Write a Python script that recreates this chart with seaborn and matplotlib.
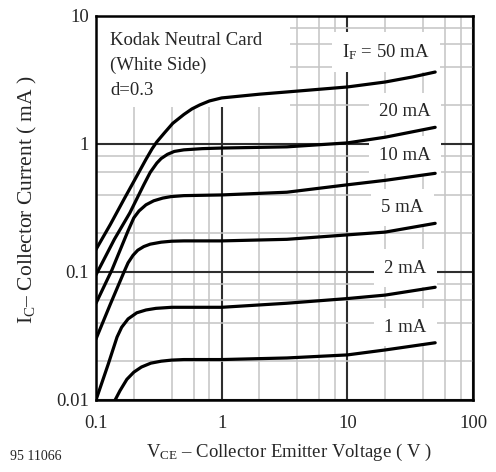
import matplotlib
matplotlib.use("Agg")
import matplotlib.pyplot as plt
from matplotlib.ticker import FixedLocator, LogLocator, NullFormatter
from matplotlib.patches import Rectangle
import pandas as pd
import seaborn as sns

# Output characteristics: collector current vs. collector-emitter voltage
# for several forward currents (reflective target: Kodak neutral card, white side).
if_labels = ["1 mA", "2 mA", "5 mA", "10 mA", "20 mA", r"I$_{\rm F}$ = 50 mA"]

vce_1 = [0.142, 0.155, 0.176, 0.2, 0.23, 0.273, 0.33, 0.4, 0.5, 1, 3.3, 10, 20, 50]
ic_1 = [0.01, 0.0118, 0.0145, 0.0165, 0.0181, 0.0194, 0.0201, 0.0205, 0.0207,
        0.0207, 0.0213, 0.0225, 0.0246, 0.028]

vce_2 = [0.1, 0.125, 0.147, 0.16, 0.18, 0.211, 0.25, 0.3, 0.4, 1, 3.3, 10, 20, 50]
ic_2 = [0.01, 0.019, 0.031, 0.037, 0.043, 0.048, 0.0505, 0.052, 0.053, 0.053,
        0.057, 0.062, 0.066, 0.076]

vce_5 = [0.1, 0.13, 0.167, 0.18, 0.197, 0.215, 0.24, 0.27, 0.33, 0.4, 0.5, 1,
         3.3, 10, 20, 50]
ic_5 = [0.030, 0.056, 0.100, 0.118, 0.135, 0.148, 0.158, 0.165, 0.171, 0.174,
        0.175, 0.175, 0.18, 0.195, 0.205, 0.24]

vce_10 = [0.1, 0.134, 0.18, 0.2, 0.22, 0.25, 0.288, 0.34, 0.394, 0.5, 1, 3.3,
          10, 20, 50]
ic_10 = [0.057, 0.104, 0.21, 0.265, 0.30, 0.335, 0.36, 0.378, 0.388, 0.395,
         0.40, 0.42, 0.48, 0.52, 0.59]

vce_20 = [0.1, 0.14, 0.186, 0.24, 0.27, 0.305, 0.33, 0.37, 0.42, 0.5, 0.7, 1,
          3.3, 10, 20, 50]
ic_20 = [0.095, 0.18, 0.29, 0.48, 0.60, 0.71, 0.77, 0.83, 0.875, 0.90, 0.92,
         0.93, 0.95, 1.02, 1.13, 1.35]

vce_50 = [0.1, 0.13, 0.167, 0.2, 0.25, 0.28, 0.305, 0.35, 0.408, 0.5, 0.58,
          0.67, 0.8, 1, 2, 3.3, 10, 20, 33, 50]
ic_50 = [0.15, 0.235, 0.37, 0.51, 0.76, 0.92, 1.04, 1.22, 1.45, 1.70, 1.88,
         2.02, 2.17, 2.29, 2.45, 2.55, 2.79, 3.05, 3.34, 3.65]

# label anchor of each curve (V, mA)
label_x = [28.9, 28.9, 27.4, 28.9, 28.9, 20.3]
label_y = [0.037, 0.107, 0.32, 0.82, 1.78, 5.23]

series = [(vce_1, ic_1), (vce_2, ic_2), (vce_5, ic_5),
          (vce_10, ic_10), (vce_20, ic_20), (vce_50, ic_50)]
frames = []
for name, (vx, vy) in zip(if_labels, series):
    frames.append(pd.DataFrame({"vce": vx, "ic": vy, "curve": name}))
df = pd.concat(frames, ignore_index=True)

sns.set_style("white")
plt.rcParams["font.family"] = ["Liberation Serif", "DejaVu Serif"]
plt.rcParams["mathtext.fontset"] = "custom"
plt.rcParams["mathtext.rm"] = "Liberation Serif"
plt.rcParams["mathtext.it"] = "Liberation Serif:italic"

fig = plt.figure(figsize=(4.96, 4.72), dpi=100)
ax = fig.add_axes([96 / 496, 1 - 400 / 472, 377 / 496, 384 / 472])

sns.lineplot(data=df, x="vce", y="ic", units="curve", estimator=None,
             sort=False, color="black", lw=2.3, ax=ax, legend=False, zorder=3)

ax.set_xscale("log")
ax.set_yscale("log")
ax.set_xlim(0.1, 100)
ax.set_ylim(0.01, 10)

ax.xaxis.set_major_locator(FixedLocator([0.1, 1, 10, 100]))
ax.set_xticklabels(["0.1", "1", "10", "100"])
ax.yaxis.set_major_locator(FixedLocator([0.01, 0.1, 1, 10]))
ax.set_yticklabels(["0.01", "0.1", "1", "10"])
ax.xaxis.set_minor_locator(LogLocator(base=10, subs=[2, 4, 6, 8]))
ax.yaxis.set_minor_locator(LogLocator(base=10, subs=[2, 4, 6, 8]))
ax.xaxis.set_minor_formatter(NullFormatter())
ax.yaxis.set_minor_formatter(NullFormatter())

ax.set_axisbelow(True)
ax.grid(which="major", color="#2e2e2e", lw=1.5)
ax.grid(which="minor", color="#c4c4c4", lw=1.1)
ax.tick_params(which="both", length=0, labelsize=13.5)
ax.tick_params(axis="x", pad=11)
ax.tick_params(axis="y", pad=5)
for s in ax.spines.values():
    s.set_linewidth(1.8)
    s.set_color("black")
    s.set_zorder(5)

# blank panel behind the measurement conditions
ax.add_patch(Rectangle((0, 0.763), 0.515, 0.237, transform=ax.transAxes,
                       facecolor="white", edgecolor="none", zorder=1))
for txt, yb in zip(["Kodak Neutral Card", "(White Side)", "d=0.3"],
                   [0.9245, 0.8594, 0.7943]):
    ax.text(0.037, yb, txt, transform=ax.transAxes, fontsize=13.5,
            ha="left", va="baseline", zorder=4)

# curve labels sit on white boxes that interrupt the grid, under the curves
for lab, lx, ly in zip(if_labels, label_x, label_y):
    ax.text(lx, ly, lab, fontsize=13.5, ha="center", va="center", zorder=2,
            bbox=dict(boxstyle="square,pad=0.55", fc="white", ec="none"))

ax.set_xlabel(r"V$_{\rm CE}$ – Collector Emitter Voltage ( V )",
              fontsize=13.5, va="center")
ax.xaxis.set_label_coords((289 - 96) / 377, (400 - 452) / 384)
ax.set_ylabel(r"I$_{\rm C}$– Collector Current ( mA )",
              fontsize=15.5, va="center")
ax.yaxis.set_label_coords((27 - 96) / 377, (400 - 200) / 384)

fig.text(10 / 496, 1 - 456 / 472, "95 11066", fontsize=10,
         ha="left", va="center")

fig.savefig("out.png", dpi=100, facecolor="white")
